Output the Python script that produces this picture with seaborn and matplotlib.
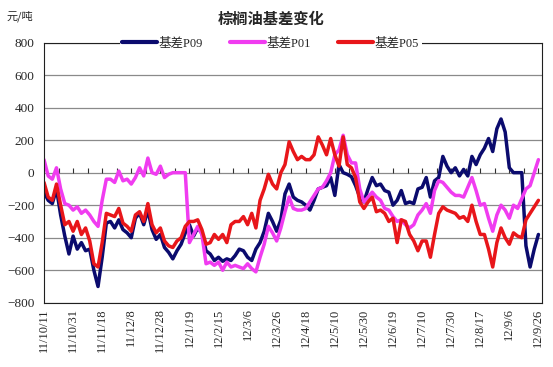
import matplotlib
matplotlib.use("Agg")
import matplotlib.pyplot as plt
import seaborn as sns
import numpy as np
import pandas as pd

# trading-day index (every second day) and category labels every 14 days
day = list(range(0, 240, 2))
tick_pos = list(range(0, 240, 14))
tick_labels = ["11/10/11", "11/10/31", "11/11/18", "11/12/8", "11/12/28", "12/1/19",
               "12/2/15", "12/3/6", "12/3/26", "12/4/18", "12/5/10", "12/5/30",
               "12/6/19", "12/7/10", "12/7/30", "12/8/17", "12/9/6", "12/9/26"]

p09 = [-120, -170, -190, -100, -260, -390, -500, -390, -470, -430,
       -480, -470, -600, -700, -520, -310, -300, -340, -290, -350,
       -370, -400, -280, -250, -320, -230, -350, -410, -380, -460,
       -490, -530, -480, -440, -370, -320, -390, -340, -370, -480,
       -500, -540, -520, -545, -530, -540, -510, -470, -480, -520,
       -540, -470, -430, -360, -250, -300, -360, -290, -130, -70,
       -150, -170, -180, -200, -230, -170, -100, -90, -80, -30,
       -140, 50, 0, -10, -25, -80, -150, -180, -100, -30,
       -80, -70, -110, -120, -200, -170, -110, -190, -180, -190,
       -100, -90, -30, -150, -50, -30, 100, 40, 0, 30,
       -20, 20, -20, 100, 50, 110, 150, 210, 130, 270,
       330, 250, 30, 0, 0, 0, -450, -580, -470, -380]

p01 = [80, -20, -40, 30, -100, -190, -200, -230, -210, -250,
       -230, -260, -300, -330, -170, -40, -40, -60, 10, -50,
       -40, -70, -30, 30, -20, 90, 0, -10, 40, -30,
       -10, 0, 0, 0, 0, -430, -380, -330, -380, -560,
       -550, -570, -550, -600, -550, -580, -570, -580, -590, -560,
       -590, -610, -520, -440, -330, -370, -420, -340, -240, -150,
       -220, -230, -230, -220, -180, -140, -100, -90, -50, 0,
       110, 140, 230, 110, 60, 60, -100, -180, -150, -120,
       -150, -170, -220, -230, -270, -300, -290, -320, -340, -320,
       -260, -230, -190, -250, -110, -50, -60, -90, -120, -140,
       -140, -150, -90, -30, -110, -200, -190, -280, -360, -260,
       -200, -230, -280, -200, -220, -160, -100, -80, 0, 80]

p05 = [-60, -150, -170, -70, -200, -320, -300, -360, -300, -380,
       -340, -420, -560, -580, -430, -250, -260, -270, -220, -310,
       -330, -360, -260, -240, -300, -190, -320, -370, -340, -420,
       -450, -460, -420, -400, -330, -300, -300, -290, -350, -440,
       -430, -380, -410, -380, -430, -320, -300, -300, -270, -320,
       -250, -340, -170, -100, -10, -70, -100, 0, 50, 190,
       130, 80, 100, 80, 80, 110, 220, 170, 110, 210,
       110, 40, 220, 50, 30, -30, -180, -220, -180, -150,
       -240, -230, -250, -300, -280, -430, -290, -300, -380, -420,
       -480, -420, -420, -520, -380, -250, -210, -230, -240, -250,
       -280, -270, -300, -200, -300, -380, -380, -470, -580, -430,
       -340, -400, -440, -370, -390, -400, -290, -250, -210, -170]

names = ["基差P09", "基差P01", "基差P05"]
colors = ["#0b0b6e", "#f03cf0", "#e8161a"]

df = pd.DataFrame({
    "day": day * 3,
    "basis": p09 + p01 + p05,
    "series": [names[0]] * len(day) + [names[1]] * len(day) + [names[2]] * len(day),
})

sns.set_style("white")
plt.rcParams["font.family"] = ["Liberation Serif", "Noto Sans CJK SC"]

fig = plt.figure(figsize=(5.53, 3.67), dpi=100)
ax = fig.add_axes([0.0796, 0.175, 0.9004, 0.709])

ax.set_axisbelow(True)
ax.yaxis.grid(True, color="#8a8a8a", lw=0.9)
# small category ticks sitting on the zero line
ax.vlines(np.arange(7, 240, 7), 0, 28, color="#303030", lw=0.8, zorder=1)

sns.lineplot(data=df, x="day", y="basis", hue="series", hue_order=names,
             palette=colors, lw=2.5, ax=ax, legend=True)

ax.set_xlim(0, 239.7)
ax.set_ylim(-800, 800)
ax.set_yticks(range(-800, 801, 200))
ax.set_xticks(tick_pos)
ax.set_xticklabels(tick_labels, rotation=90, fontsize=9)
ax.tick_params(axis="y", labelsize=9.5, length=0, pad=7)
ax.tick_params(axis="x", length=0, pad=4)
ax.set_xlabel("")
ax.set_ylabel("")
for s in ax.spines.values():
    s.set_color("#202020")
    s.set_linewidth(0.8)

leg = ax.legend(loc="center", bbox_to_anchor=(0.455, 0.995), ncol=3, fontsize=9,
                frameon=True, handlelength=2.8, columnspacing=2.2, borderpad=0.2,
                handletextpad=0.1)
leg.get_frame().set_facecolor("white")
leg.get_frame().set_edgecolor("none")
leg.get_frame().set_alpha(1)
for line in leg.get_lines():
    line.set_linewidth(3)

fig.text(0.49, 0.948, "棕榈油基差变化", ha="center", va="center", fontsize=11,
         fontweight="bold", family=["Noto Sans CJK SC"])
fig.text(0.012, 0.955, "元/吨", ha="left", va="center", fontsize=8,
         family=["Noto Sans CJK SC"])

fig.savefig("out.png", dpi=100)
